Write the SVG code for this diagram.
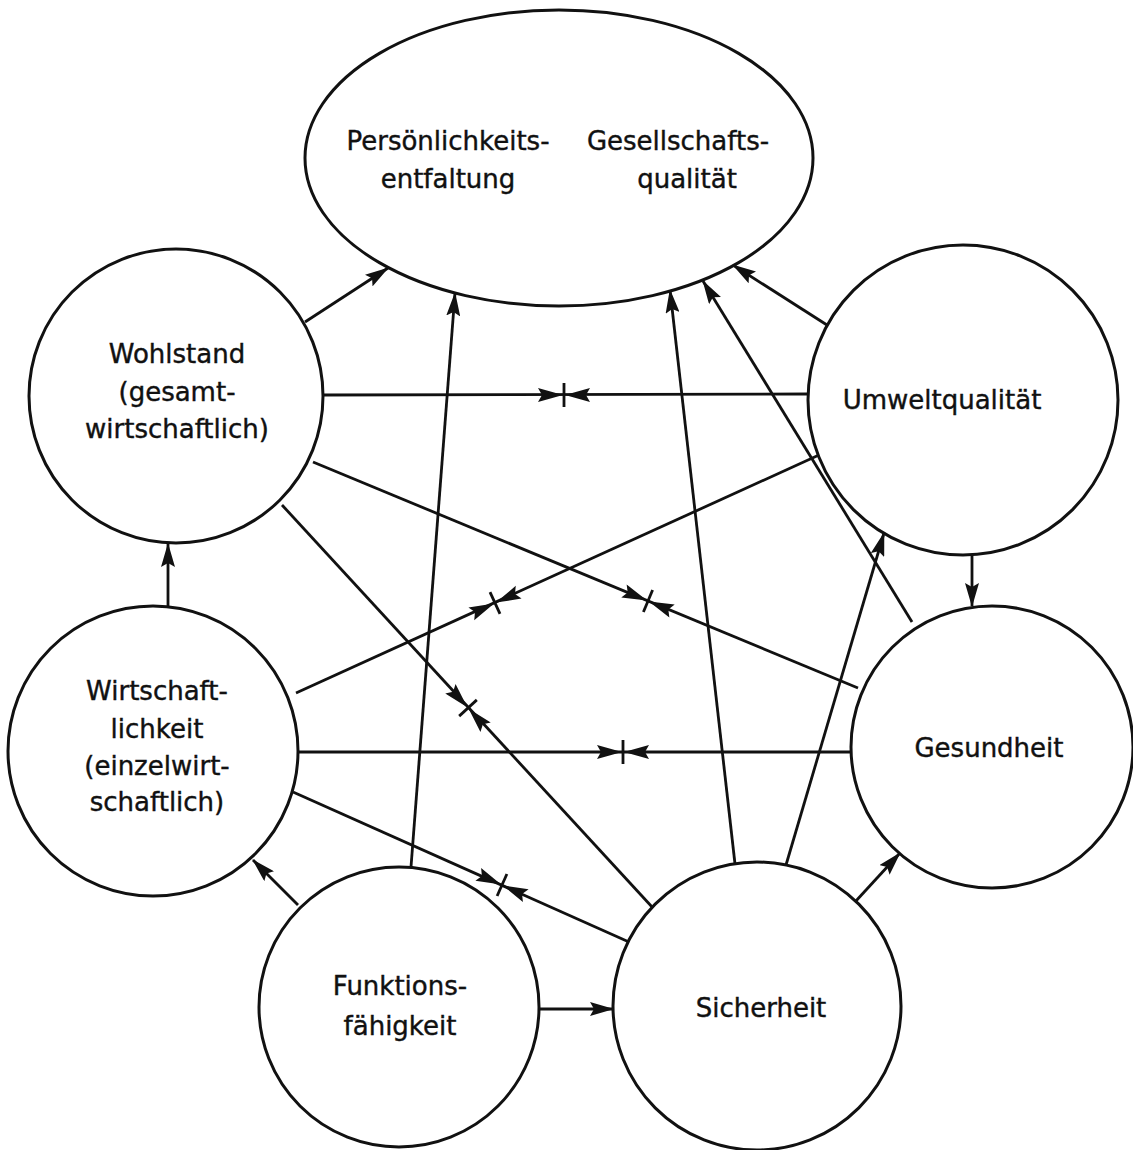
<svg xmlns="http://www.w3.org/2000/svg" xmlns:xlink="http://www.w3.org/1999/xlink" width="1133" height="1150" viewBox="0 0 1133 1150">
<style>
.node{fill:#fff;stroke:#111;stroke-width:3}
.lbl{font-family:"DejaVu Sans","Liberation Sans",sans-serif;font-size:26px;fill:#111;stroke:#111;stroke-width:0.4;text-anchor:middle}
.ln{stroke:#111;stroke-width:2.8;fill:none}
.arr{marker-end:url(#ah)}
.cm{fill:#111;stroke:#111;stroke-width:2.8}
</style>
<defs>
<marker id="ah" viewBox="0 0 24 14" markerWidth="24" markerHeight="14" refX="23" refY="7" orient="auto" markerUnits="userSpaceOnUse">
<path d="M0,0 L24,7 L0,14 L4,7 z" fill="#111"/>
</marker>
<g id="cm">
<path d="M-26,-7 L-1,0 L-26,7 L-22,0 z M26,-7 L1,0 L26,7 L22,0 z" stroke="none"/>
<line x1="0" y1="-12" x2="0" y2="12" fill="none"/>
</g>
</defs>
<rect width="1133" height="1150" fill="#fff"/>
<g id="connectors">
<line class="ln arr" x1="305" y1="322" x2="388" y2="268"/>
<line class="ln arr" x1="411" y1="867" x2="455" y2="293"/>
<line class="ln arr" x1="735" y1="864" x2="670" y2="290"/>
<line class="ln arr" x1="912" y1="622" x2="703" y2="281"/>
<line class="ln arr" x1="827" y1="325" x2="733" y2="265"/>
<line class="ln arr" x1="972" y1="555" x2="972" y2="606"/>
<line class="ln arr" x1="168" y1="607" x2="168" y2="544"/>
<line class="ln arr" x1="298" y1="905" x2="253" y2="860"/>
<line class="ln arr" x1="539" y1="1009" x2="613" y2="1009"/>
<line class="ln arr" x1="855" y1="902" x2="900" y2="853"/>
<line class="ln arr" x1="786" y1="865" x2="884" y2="533"/>
<line class="ln" x1="323" y1="395" x2="808" y2="394"/>
<line class="ln" x1="313" y1="462" x2="858" y2="688"/>
<line class="ln" x1="282" y1="505" x2="653" y2="908"/>
<line class="ln" x1="296" y1="693" x2="819" y2="455"/>
<line class="ln" x1="298" y1="752" x2="851" y2="752"/>
<line class="ln" x1="293" y1="792" x2="629" y2="942"/>
<use xlink:href="#cm" class="cm" transform="translate(564,395)"/>
<use xlink:href="#cm" class="cm" transform="translate(648,601) rotate(22.5)"/>
<use xlink:href="#cm" class="cm" transform="translate(468,708) rotate(47.4)"/>
<use xlink:href="#cm" class="cm" transform="translate(495,603) rotate(-24.5)"/>
<use xlink:href="#cm" class="cm" transform="translate(623,752)"/>
<use xlink:href="#cm" class="cm" transform="translate(502,885) rotate(24.06)"/>
</g>
<g id="node-ziel">
<ellipse class="node" cx="559" cy="158" rx="254" ry="148"/>
<text class="lbl" x="448" y="150">Persönlichkeits-</text>
<text class="lbl" x="448" y="188">entfaltung</text>
<text class="lbl" x="678" y="150">Gesellschafts-</text>
<text class="lbl" x="687" y="188">qualität</text>
</g>
<g id="node-wohlstand">
<circle class="node" cx="176" cy="396" r="147"/>
<text class="lbl" x="177" y="363">Wohlstand</text>
<text class="lbl" x="177" y="401">(gesamt-</text>
<text class="lbl" x="177" y="438">wirtschaftlich)</text>
</g>
<g id="node-umwelt">
<circle class="node" cx="963" cy="400" r="155"/>
<text class="lbl" x="942" y="409">Umweltqualität</text>
</g>
<g id="node-wirtschaftlichkeit">
<circle class="node" cx="153" cy="751" r="145"/>
<text class="lbl" x="157" y="700">Wirtschaft-</text>
<text class="lbl" x="157" y="738">lichkeit</text>
<text class="lbl" x="157" y="775">(einzelwirt-</text>
<text class="lbl" x="157" y="811">schaftlich)</text>
</g>
<g id="node-gesundheit">
<circle class="node" cx="992" cy="747" r="141"/>
<text class="lbl" x="989" y="757">Gesundheit</text>
</g>
<g id="node-funktion">
<circle class="node" cx="399" cy="1007" r="140"/>
<text class="lbl" x="400" y="995">Funktions-</text>
<text class="lbl" x="400" y="1035">fähigkeit</text>
</g>
<g id="node-sicherheit">
<circle class="node" cx="757" cy="1006" r="144"/>
<text class="lbl" x="761" y="1017">Sicherheit</text>
</g>
</svg>
